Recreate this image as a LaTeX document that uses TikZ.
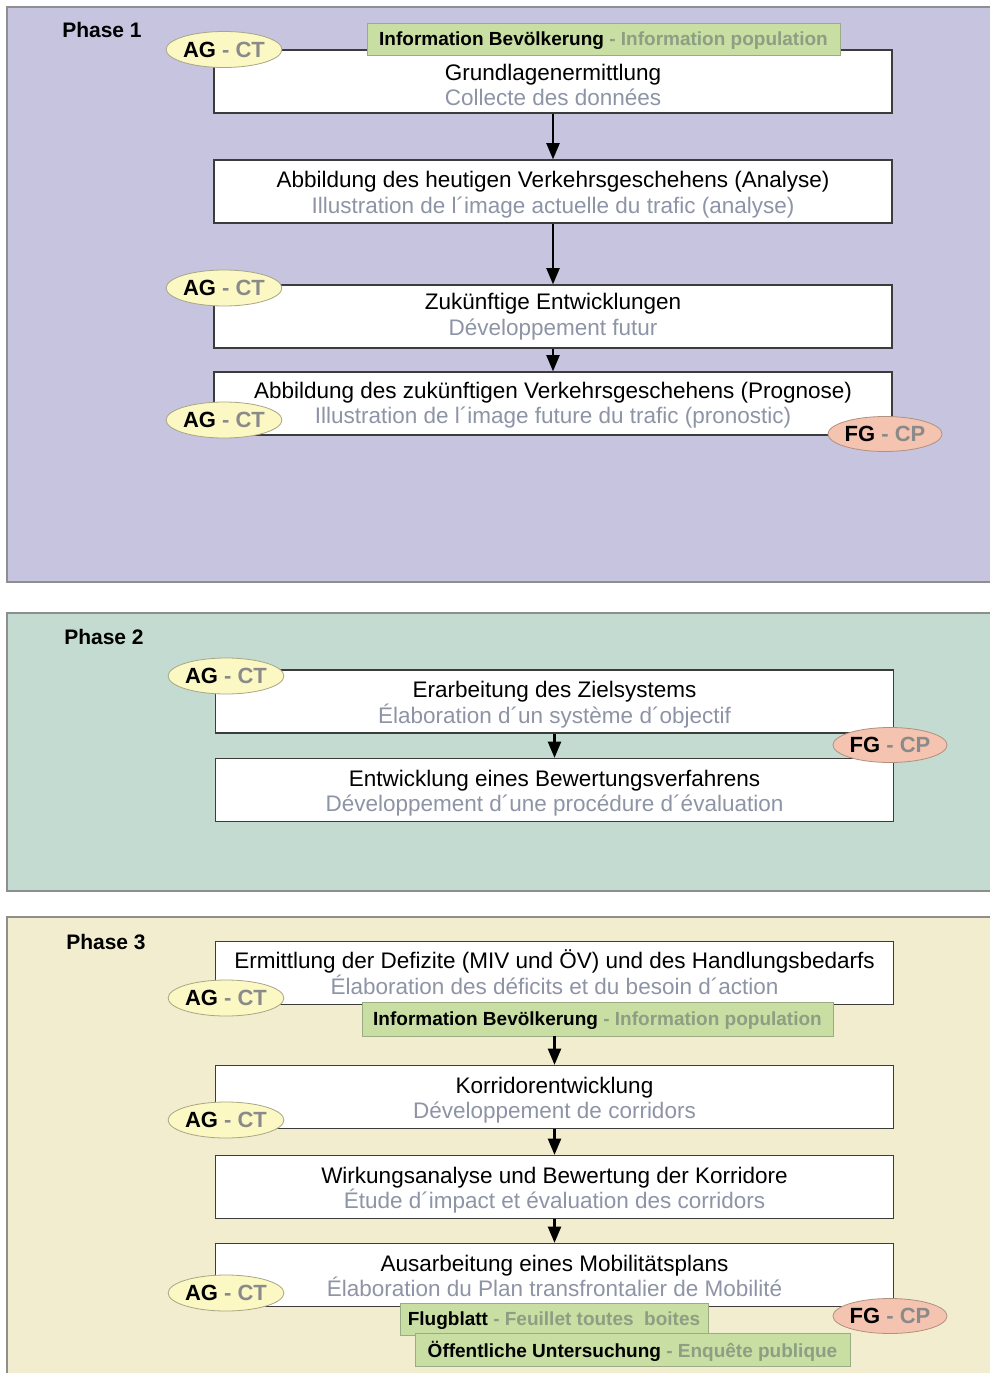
\documentclass[tikz,border=0pt]{standalone}
\usepackage{fontspec}
\setmainfont{Liberation Sans}
\usetikzlibrary{arrows,shapes.geometric}
\definecolor{lila}{HTML}{C6C4DE}
\definecolor{mint}{HTML}{C3DBD0}
\definecolor{creme}{HTML}{F3EDD0}
\definecolor{panelrand}{HTML}{8E8E8E}
\definecolor{boxrand}{HTML}{3C3C3C}
\definecolor{frgrau}{HTML}{8D94A6}
\definecolor{gelb}{HTML}{FBF8C3}
\definecolor{gelbrand}{HTML}{A8A684}
\definecolor{lachs}{HTML}{F4C4B0}
\definecolor{lachsrand}{HTML}{B0907E}
\definecolor{gruen}{HTML}{C9DEA2}
\definecolor{gruenrand}{HTML}{9AAC84}
\definecolor{gruentext}{HTML}{8C9E84}
\definecolor{kurzgrau}{HTML}{8A8A8A}
\newcommand{\agct}{AG\ \textcolor{kurzgrau}{-\ CT}}
\newcommand{\fgcp}{FG\ \textcolor{kurzgrau}{-\ CP}}
\begin{document}
\begin{tikzpicture}[x=1pt,y=-1pt]

\tikzstyle{phase} = [draw=panelrand, line width=1.2pt]
\tikzstyle{phasetitel} = [font=\bfseries\fontsize{21}{21}\selectfont]
\tikzstyle{stepbox} = [rectangle, minimum width=678pt, minimum height=63pt, inner sep=0pt, text height=43pt, text depth=0pt, text centered, align=center, draw=boxrand, line width=1.6pt, fill=white, font=\fontsize{22.5}{25.5}\selectfont]
\tikzstyle{ag} = [ellipse, minimum width=112pt, minimum height=36pt, inner sep=0pt, draw=gelbrand, fill=gelb, line width=0.8pt, font=\bfseries\fontsize{22}{22}\selectfont]
\tikzstyle{fg} = [ellipse, minimum width=111pt, minimum height=35pt, inner sep=0pt, draw=lachsrand, fill=lachs, line width=0.8pt, font=\bfseries\fontsize{22}{22}\selectfont]
\tikzstyle{info} = [rectangle, minimum height=32pt, inner sep=0pt, text depth=0pt, text centered, draw=gruenrand, fill=gruen, line width=0.8pt, font=\bfseries\fontsize{19}{19}\selectfont]
\tikzstyle{pfeil} = [-triangle 45, line width=2.8pt, black]

\useasboundingbox (0,0) rectangle (990,1373);

% Phasen
\draw[phase, fill=lila] (7,7) rectangle (992,582);
\draw[phase, fill=mint] (7,613) rectangle (992,891);
\draw[phase, fill=creme] (7,917) rectangle (992,1375);
\node (p1) [phasetitel] at (102,30) {Phase 1};
\node (p2) [phasetitel] at (104,637) {Phase 2};
\node (p3) [phasetitel] at (106,942) {Phase 3};

% Phase 1
\node (b1) [stepbox, text height=48pt] at (553,81.5) {Grundlagenermittlung\\\color{frgrau}Collecte des données};
\node (b2) [stepbox] at (553,191.5) {Abbildung des heutigen Verkehrsgeschehens (Analyse)\\\color{frgrau}Illustration de l´image actuelle du trafic (analyse)};
\node (b3) [stepbox, text height=37pt] at (553,316.5) {Zukünftige Entwicklungen\\\color{frgrau}Développement futur};
\node (b4) [stepbox, text height=40pt] at (553,403.5) {Abbildung des zukünftigen Verkehrsgeschehens (Prognose)\\\color{frgrau}Illustration de l´image future du trafic (pronostic)};
\draw[pfeil] (b1.south) -- (b2.north);
\draw[pfeil] (b2.south) -- (b3.north);
\draw[pfeil] (b3.south) -- (b4.north);
\node (info1) [info, minimum width=473pt] at (603.5,39) {Information Bevölkerung\ \textcolor{gruentext}{-\ Information population}};
\node (ag1) [ag] at (224,49.5) {\agct};
\node (ag2) [ag] at (224,288) {\agct};
\node (ag3) [ag] at (224,420) {\agct};
\node (fg1) [fg] at (885,434) {\fgcp};

% Phase 2
\node (b5) [stepbox] at (554.5,701.5) {Erarbeitung des Zielsystems\\\color{frgrau}Élaboration d´un système d´objectif};
\node (b6) [stepbox] at (554.5,790) {Entwicklung eines Bewertungsverfahrens\\\color{frgrau}Développement d´une procédure d´évaluation};
\draw[pfeil] (b5.south) -- (b6.north);
\node (ag4) [ag] at (226,676) {\agct};
\node (fg2) [fg] at (890,745) {\fgcp};

% Phase 3
\node (b7) [stepbox, text height=42pt] at (554.5,973) {Ermittlung der Defizite (MIV und ÖV) und des Handlungsbedarfs\\\color{frgrau}Élaboration des déficits et du besoin d´action};
\node (b8) [stepbox] at (554.5,1097) {Korridorentwicklung\\\color{frgrau}Développement de corridors};
\node (b9) [stepbox] at (554.5,1187) {Wirkungsanalyse und Bewertung der Korridore\\\color{frgrau}Étude d´impact et évaluation des corridors};
\node (b10) [stepbox] at (554.5,1275) {Ausarbeitung eines Mobilitätsplans\\\color{frgrau}Élaboration du Plan transfrontalier de Mobilité};
\node (info2) [info, minimum width=471pt, minimum height=34pt] at (597.5,1019) {Information Bevölkerung\ \textcolor{gruentext}{-\ Information population}};
\draw[pfeil] (b7.south |- info2.south) -- (b8.north);
\draw[pfeil] (b8.south) -- (b9.north);
\draw[pfeil] (b9.south) -- (b10.north);
\node (ag5) [ag] at (226,998) {\agct};
\node (ag6) [ag] at (226,1120) {\agct};
\node (ag7) [ag] at (226,1293) {\agct};
\node (fg3) [fg] at (890,1316) {\fgcp};
\node (flug) [info, minimum width=308pt] at (554,1319) {Flugblatt\ \textcolor{gruentext}{-\ Feuillet toutes\ \ boites}};
\node (unters) [info, minimum width=435pt, minimum height=33pt] at (632.5,1349.5) {Öffentliche Untersuchung\ \textcolor{gruentext}{-\ Enquête publique}};

\end{tikzpicture}
\end{document}
